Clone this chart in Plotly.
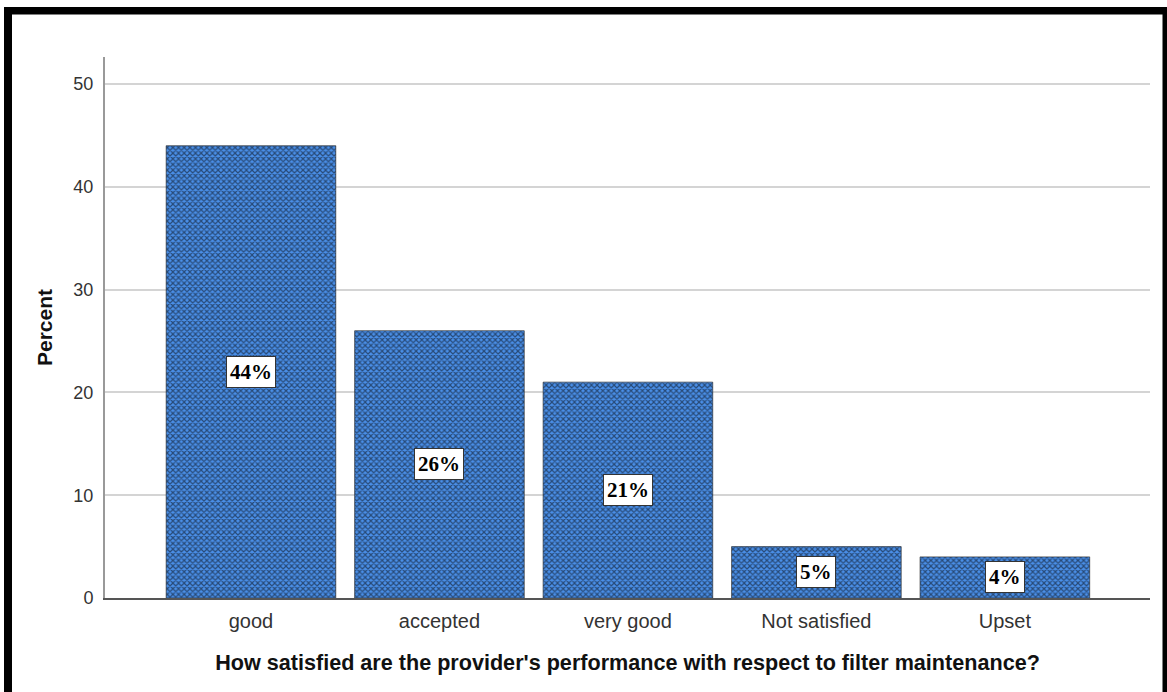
import plotly.graph_objects as go

categories = ["good", "accepted", "very good", "Not satisfied", "Upset"]
percent = [44, 26, 21, 5, 4]
labels = ["44%", "26%", "21%", "5%", "4%"]
y_ticks = [0, 10, 20, 30, 40, 50]

W, H = 1167, 692
L, R, T, B = 105, 1150, 57, 598

def px_x(p):
    return (p - L) / (R - L)

def px_y(p):
    return (B - p) / (B - T)

fig = go.Figure()
fig.add_trace(go.Bar(
    x=categories, y=percent, width=0.9,
    marker=dict(
        color="#4a8ce0",
        line=dict(color="#1a1a1a", width=0.6),
        pattern=dict(shape="x", fgcolor="#050505", bgcolor="#4a8fe8", size=4, solidity=0.5),
    ),
    hoverinfo="skip",
))

for c, v, t in zip(categories, percent, labels):
    fig.add_annotation(
        x=c, y=v / 2, text="<b>" + t + "</b>", showarrow=False,
        font=dict(family="Liberation Serif", size=21, color="black"),
        bgcolor="white", bordercolor="#333", borderwidth=1, borderpad=3,
    )

shapes = [
    dict(type="rect", xref="paper", yref="paper", x0=px_x(4), x1=px_x(12), y0=px_y(7), y1=px_y(692), fillcolor="black", line=dict(width=0), layer="above"),
    dict(type="rect", xref="paper", yref="paper", x0=px_x(4), x1=px_x(1167), y0=px_y(7), y1=px_y(14.5), fillcolor="black", line=dict(width=0), layer="above"),
    dict(type="rect", xref="paper", yref="paper", x0=px_x(1162.5), x1=px_x(1167), y0=px_y(7), y1=px_y(692), fillcolor="black", line=dict(width=0), layer="above"),
]

fig.update_layout(
    width=W, height=H,
    margin=dict(l=L, r=W - R, t=T, b=H - B),
    paper_bgcolor="white", plot_bgcolor="white",
    showlegend=False, bargap=0.1,
    shapes=shapes,
    font=dict(family="Liberation Sans", color="#222"),
    xaxis=dict(
        range=[-0.7745, 4.77], showgrid=False, zeroline=False,
        showline=True, linecolor="#555", linewidth=1.5,
        tickfont=dict(size=20, color="#333"), ticklabelstandoff=4,
        title=dict(text="<b>How satisfied are the provider's performance with respect to filter maintenance?</b>",
                   font=dict(size=21.6, color="#111"), standoff=24),
    ),
    yaxis=dict(
        range=[0, 52.63], tickvals=y_ticks, showgrid=True, gridcolor="#d4d4d4", gridwidth=1.5,
        zeroline=False, showline=True, linecolor="#999", linewidth=2,
        tickfont=dict(size=18, color="#333"), ticklabelstandoff=6,
        title=dict(text="<b>Percent</b>", font=dict(size=21, color="#111"), standoff=15),
    ),
)

fig.write_html("out.html", config={"displayModeBar": False},
               post_script="document.body.style.margin='0px';document.body.style.padding='0px';")
